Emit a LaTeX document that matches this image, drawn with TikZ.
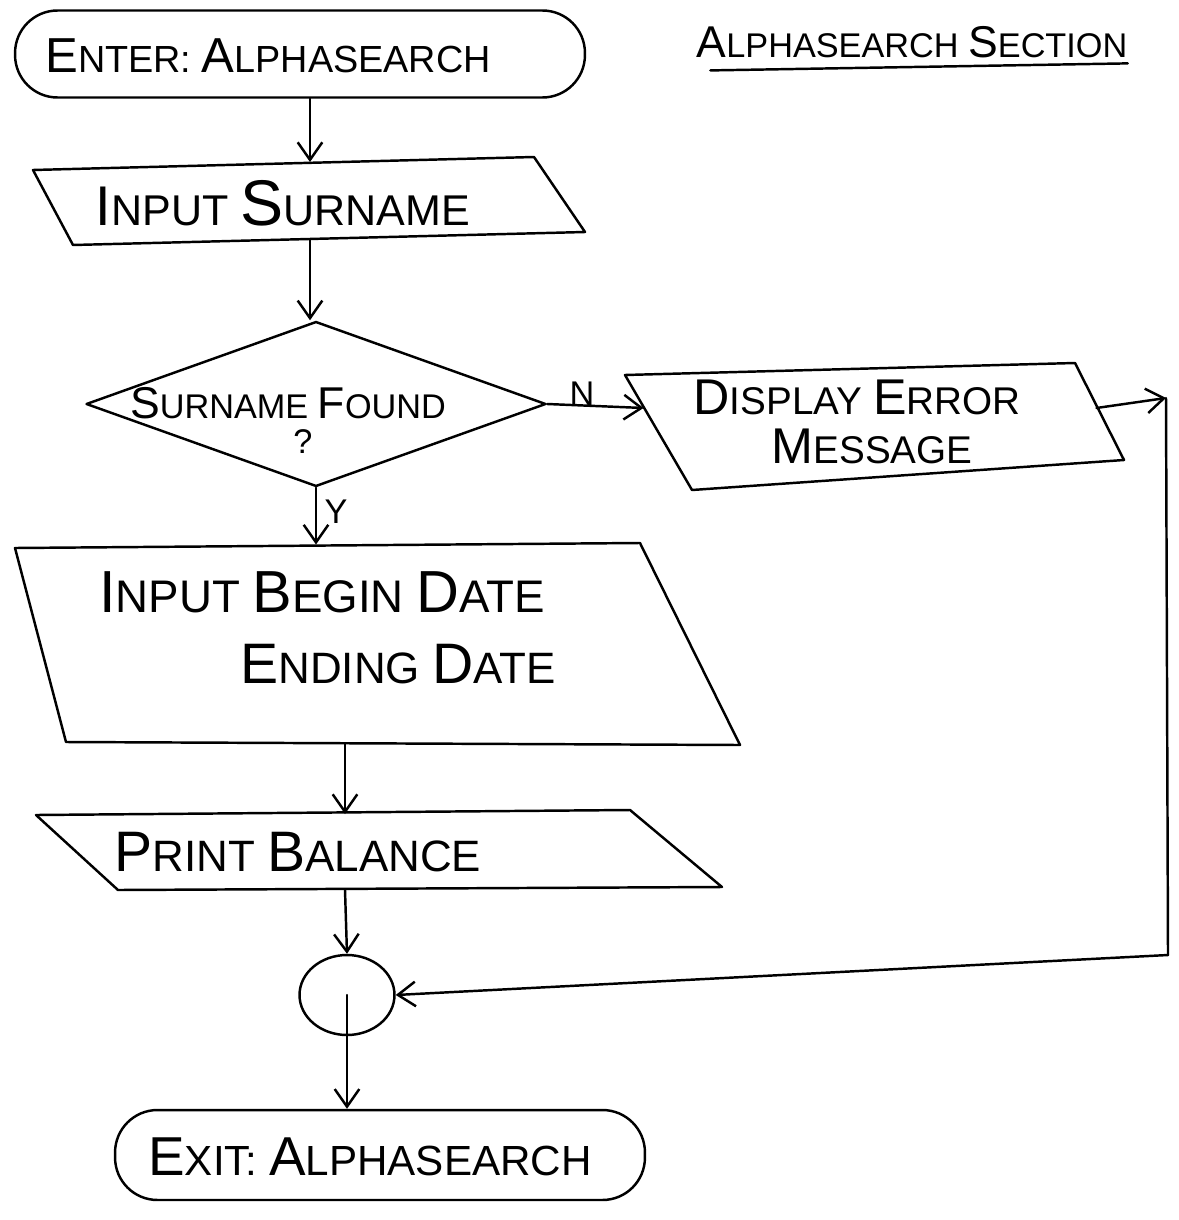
\documentclass[tikz,border=0pt]{standalone}
\usepackage{fontspec}
\setmainfont{Liberation Sans}
\usetikzlibrary{arrows.meta,shapes.geometric,calc}

% hand-lettered capitals: the first letter of a word is drawn larger
\newcommand{\hwcap}[1]{\scalebox{1.3}{#1}}

\begin{document}
\begin{tikzpicture}[x=0.02cm,y=-0.02cm,
  ink/.style={line width=1.4pt, line join=round, line cap=round},
  arr/.style={ink, -{Straight Barb[length=10pt,width=14pt,line width=1.4pt]}},
  frame/.style={inner sep=0pt, outer sep=0pt, minimum width=1pt},
  terminal/.style={ink, draw, rectangle, rounded corners=0.85cm, inner sep=0pt},
  lbl/.style={inner sep=0pt, font=\fontsize{21.5}{30}\selectfont},
  small/.style={inner sep=0pt, font=\fontsize{19.5}{30}\selectfont}]

\useasboundingbox (0,0) rectangle (1178,1220);
\fill[white] (0,0) rectangle (1178,1220);

% ---------- entry terminal and heading ----------
\node[terminal, minimum width=11.4cm, minimum height=1.74cm] (enter) at (300,54) {};
\node[lbl] (txtEnter) at (268,56) {\hwcap{E}NTER: \hwcap{A}LPHASEARCH};

\node[small] (title) at (912,42) {\hwcap{A}LPHASEARCH \hwcap{S}ECTION};
\draw[ink] ([xshift=8pt,yshift=-7pt]title.south west) -- ([yshift=-3pt]title.south east);

% ---------- input surname ----------
\draw[ink] (33,170) -- (534,157) -- (585,232) -- (73,245) -- cycle;
\node[frame, minimum height=1.56cm] (surname) at (310,201) {};
\node[lbl, font=\fontsize{24.5}{30}\selectfont] (txtSurname) at (283,203) {\hwcap{I}NPUT \scalebox{1.5}{S}URNAME};

% ---------- decision ----------
\node[ink, draw, diamond, inner sep=0pt, minimum width=9.2cm, minimum height=3.3cm] (found) at (316,404) {};
\node[small] (txtFound) at (288,403) {\hwcap{S}URNAME \hwcap{F}OUND};
\node[small] (qmark) at (303,442) {?};

% ---------- error message ----------
\draw[ink] (625,375) -- (1075,363) -- (1124,460) -- (692,490) -- cycle;
\node[frame, minimum width=9.06cm, minimum height=1pt] (display) at (870,408) {};
\node[small, font=\fontsize{22}{30}\selectfont] (txtDisplay1) at (857,397) {\hwcap{D}ISPLAY \hwcap{E}RROR};
\node[small, font=\fontsize{22}{30}\selectfont] (txtDisplay2) at (872,446) {\hwcap{M}ESSAGE};

% ---------- input dates ----------
\draw[ink] (15,548) -- (640,543) -- (740,745) -- (66,742) -- cycle;
\node[frame, minimum height=3.98cm] (dates) at (345,644) {};
\node[lbl, font=\fontsize{26}{30}\selectfont] (txtDates1) at (322,592) {\hwcap{I}NPUT \hwcap{B}EGIN \hwcap{D}ATE};
\node[lbl, font=\fontsize{25}{30}\selectfont, anchor=east] (txtDates2) at (556,664) {\hwcap{E}NDING \hwcap{D}ATE};

% ---------- print balance ----------
\draw[ink] (36,815) -- (630,810) -- (722,887) -- (118,890) -- cycle;
\node[frame, minimum height=1.52cm] (print) at (345,852) {};
\node[lbl, font=\fontsize{25}{30}\selectfont] (txtPrint) at (298,852) {\hwcap{P}RINT \hwcap{B}ALANCE};

% ---------- connector and exit terminal ----------
\node[ink, draw, ellipse, inner sep=0pt, minimum width=1.9cm, minimum height=1.6cm] (join) at (347,995) {};
\node[terminal, minimum width=10.6cm, minimum height=1.8cm] (exit) at (380,1155) {};
\node[lbl, font=\fontsize{24}{30}\selectfont] (txtExit) at (370,1157) {\hwcap{E}XIT: \hwcap{A}LPHASEARCH};

% ---------- branch labels ----------
\node[small] (labN) at (582,394) {N};
\node[small] (labY) at (336,512) {Y};

% ---------- flow lines ----------
\coordinate (fbTop) at (1166,398);
\coordinate (fbBot) at (1168,955);

\draw[arr] (surname.north |- enter.south) -- (surname.north);
\draw[arr] (surname.south) -- (surname.south |- found.north);
\draw[arr] (found.east) -- (display.west);
\draw[arr] (found.south) -- (found.south |- dates.north);
\draw[arr] (dates.south) -- (print.north);
\draw[arr] (print.south) -- (join.north);
\draw[arr] (join.center) -- (join.center |- exit.north);
\draw[arr] (display.east) -- (fbTop);
\draw[ink] (fbTop) -- (fbBot);
\draw[arr] (fbBot) -- (join.east);

\end{tikzpicture}
\end{document}
